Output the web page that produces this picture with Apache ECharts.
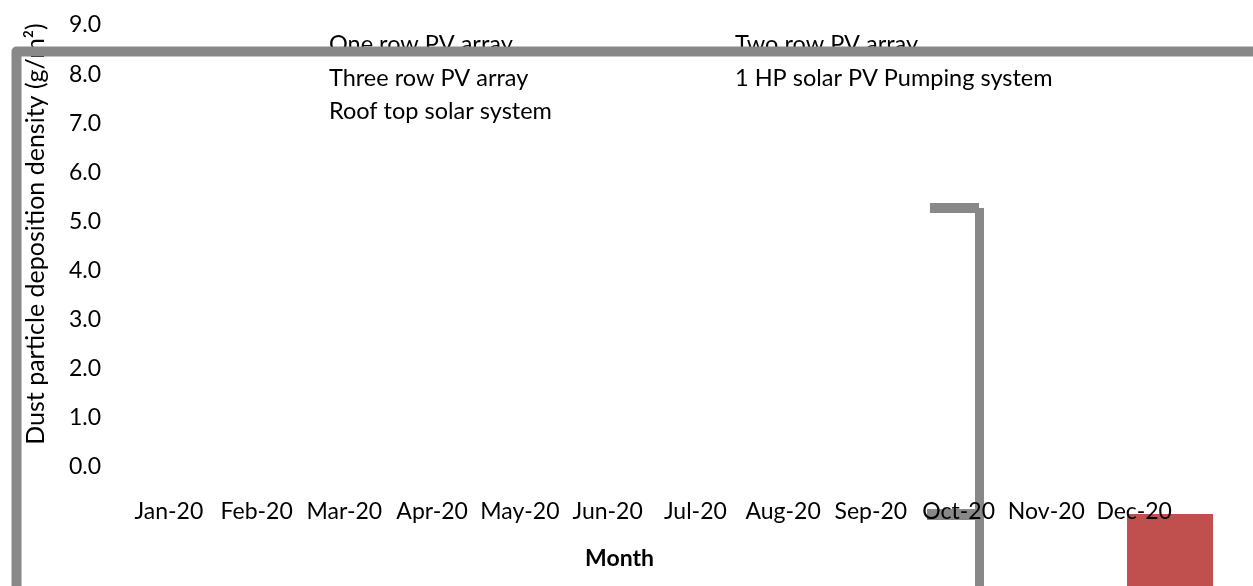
<!DOCTYPE html>
<html>
<head>
<meta charset="utf-8">
<script src="https://cdn.jsdelivr.net/npm/echarts@6/dist/echarts.min.js"></script>
<style>
  html, body { margin: 0; padding: 0; background: #fff; }
  #main { width: 1253px; height: 586px; }
</style>
</head>
<body>
<div id="main"></div>
<script>
let months = ["Jan-20", "Feb-20", "Mar-20", "Apr-20", "May-20", "Jun-20",
  "Jul-20", "Aug-20", "Sep-20", "Oct-20", "Nov-20", "Dec-20"];
let seriesNames = ["One row PV array", "Two row PV array", "Three row PV array",
  "1 HP solar PV Pumping system", "Roof top solar system"];
// no bars are visible in the picture
let oneRow = [null, null, null, null, null, null, null, null, null, null, null, null];
let twoRow = [null, null, null, null, null, null, null, null, null, null, null, null];
let threeRow = [null, null, null, null, null, null, null, null, null, null, null, null];
let hpPump = [null, null, null, null, null, null, null, null, null, null, null, null];
let roofTop = [null, null, null, null, null, null, null, null, null, null, null, null];
let yTicks = [0, 1, 2, 3, 4, 5, 6, 7, 8, 9];

let font = "Lato";
let chart = echarts.init(document.getElementById("main"));

let legendBase = {
  orient: "vertical",
  top: 28,
  padding: 0,
  itemWidth: 0,
  itemHeight: 10,
  itemGap: 0,
  selectedMode: false,
  textStyle: { fontFamily: font, fontSize: 23.5, color: "#000", lineHeight: 33.5 },
};

var option = {
  animation: false,
  color: ["#4F81BD", "#C0504D", "#9BBB59", "#8064A2", "#4BACC6"],
  grid: { left: 125, right: 75, top: 25, bottom: 119 },
  legend: [
    Object.assign({}, legendBase, { left: 324, data: [seriesNames[0], seriesNames[2], seriesNames[4]] }),
    Object.assign({}, legendBase, { left: 730, data: [seriesNames[1], seriesNames[3]] }),
  ],
  xAxis: {
    type: "category",
    data: months,
    z: 10,
    axisLine: { show: false },
    axisTick: { show: false },
    axisLabel: { fontFamily: font, fontSize: 23, color: "#000", margin: 33, interval: 0 },
    name: "Month",
    nameLocation: "middle",
    nameGap: 80,
    nameTextStyle: { fontFamily: font, fontSize: 23, fontWeight: "bold", color: "#000", padding: [0, 64, 0, 0] },
  },
  yAxis: {
    type: "value",
    min: yTicks[0],
    max: yTicks[yTicks.length - 1],
    interval: 1,
    z: 10,
    axisLine: { show: false },
    axisTick: { show: false },
    splitLine: { show: false },
    axisLabel: {
      fontFamily: font, fontSize: 23, color: "#000", margin: 24,
      formatter: function (v) { return v.toFixed(1); },
    },
    name: "Dust particle deposition density (g/m²)",
    nameLocation: "middle",
    nameGap: 77,
    nameTextStyle: { fontFamily: font, fontSize: 25, color: "#000", padding: [0, 0, 0, 24] },
  },
  series: [
    { name: seriesNames[0], type: "bar", data: oneRow },
    { name: seriesNames[1], type: "bar", data: twoRow },
    { name: seriesNames[2], type: "bar", data: threeRow },
    { name: seriesNames[3], type: "bar", data: hpPump },
    { name: seriesNames[4], type: "bar", data: roofTop },
  ],
  graphic: [
    // outer frame, drawn over the legend
    {
      type: "rect", z: 100, silent: true,
      shape: { x: 16.5, y: 51.5, width: 1400, height: 800 },
      style: { fill: "none", stroke: "#888", lineWidth: 10, lineJoin: "round" },
    },
    // stray shapes near Oct-20 and Dec-20
    { type: "rect", z: 1, silent: true, shape: { x: 930, y: 203, width: 49, height: 10 }, style: { fill: "#888" } },
    { type: "rect", z: 1, silent: true, shape: { x: 975, y: 208, width: 9, height: 400 }, style: { fill: "#888" } },
    { type: "rect", z: 1, silent: true, shape: { x: 927, y: 509, width: 48, height: 11 }, style: { fill: "#888" } },
    { type: "rect", z: 1, silent: true, shape: { x: 1127, y: 514, width: 86, height: 100 }, style: { fill: "#C0504D" } },
  ],
};
chart.setOption(option);
</script>
</body>
</html>
